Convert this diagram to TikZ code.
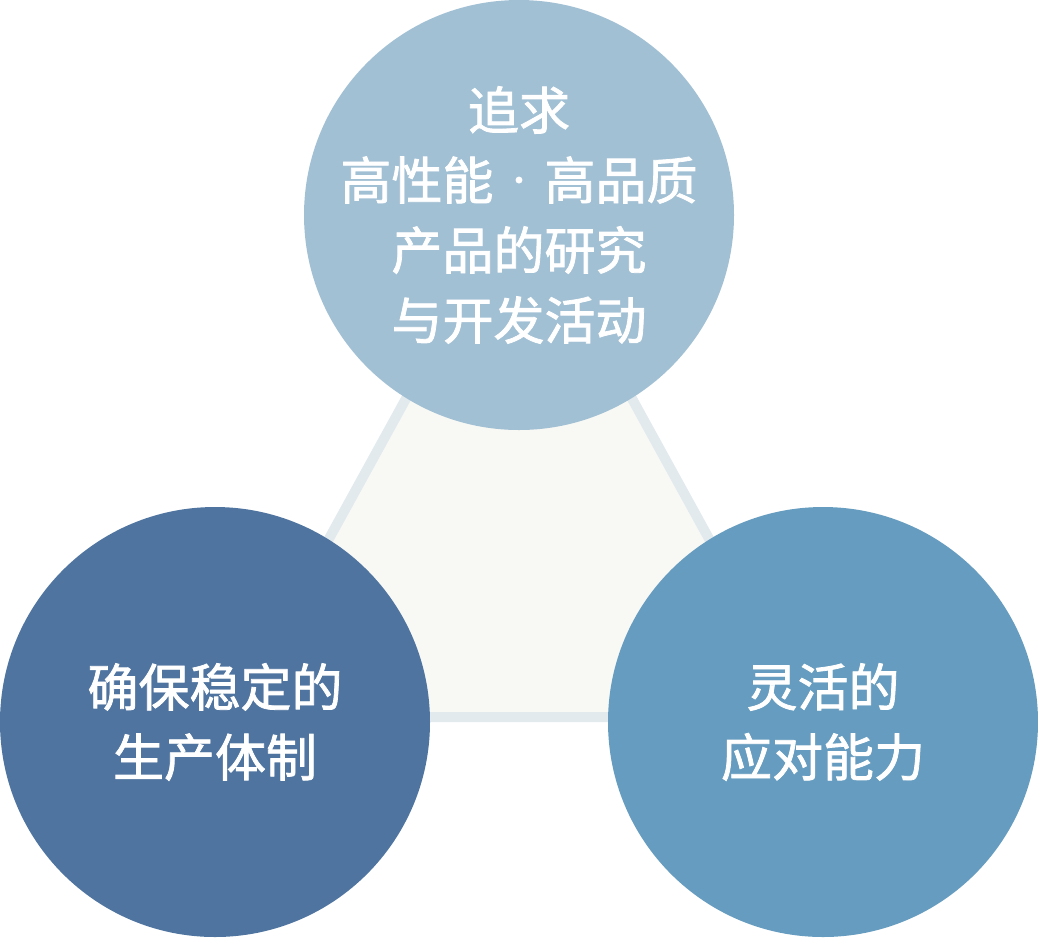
\documentclass[tikz,border=0pt]{standalone}
\usepackage{fontspec}
\newfontfamily\cjk[FakeBold=1.5]{Noto Sans CJK SC}
\definecolor{topc}{HTML}{A2C0D4}
\definecolor{leftc}{HTML}{4F74A0}
\definecolor{rightc}{HTML}{669CBF}
\definecolor{trifill}{HTML}{F8F9F5}
\definecolor{triline}{HTML}{E2EAEE}
\newcommand{\smalldot}{\makebox[51pt]{\raisebox{8pt}{\fontsize{30}{30}\selectfont ·}}}
\tikzset{
  bubble/.style={circle, minimum size=430pt, inner sep=0pt, draw=none},
  label/.style={text=white, align=center, font=\cjk\fontsize{51}{70}\selectfont}
}
\begin{document}
\begin{tikzpicture}[x=1pt,y=-1pt]
\useasboundingbox (0,0) rectangle (1038,938);
\coordinate (tA) at (519,193);
\coordinate (tB) at (231,717);
\coordinate (tC) at (807,717);
\filldraw[fill=trifill, draw=triline, line width=10pt, line join=miter] (tA) -- (tB) -- (tC) -- cycle;
\node[bubble, fill=topc] (top) at (519,215) {};
\node[bubble, fill=leftc] (left) at (215,722) {};
\node[bubble, fill=rightc] (right) at (823,722) {};
\node[label] (toptxt) at (top.center) {追求\\高性能\smalldot 高品质\\产品的研究\\与开发活动};
\node[label] (lefttxt) at (left.center) {确保稳定的\\生产体制};
\node[label] (righttxt) at (right.center) {灵活的\\应对能力};
\end{tikzpicture}
\end{document}
